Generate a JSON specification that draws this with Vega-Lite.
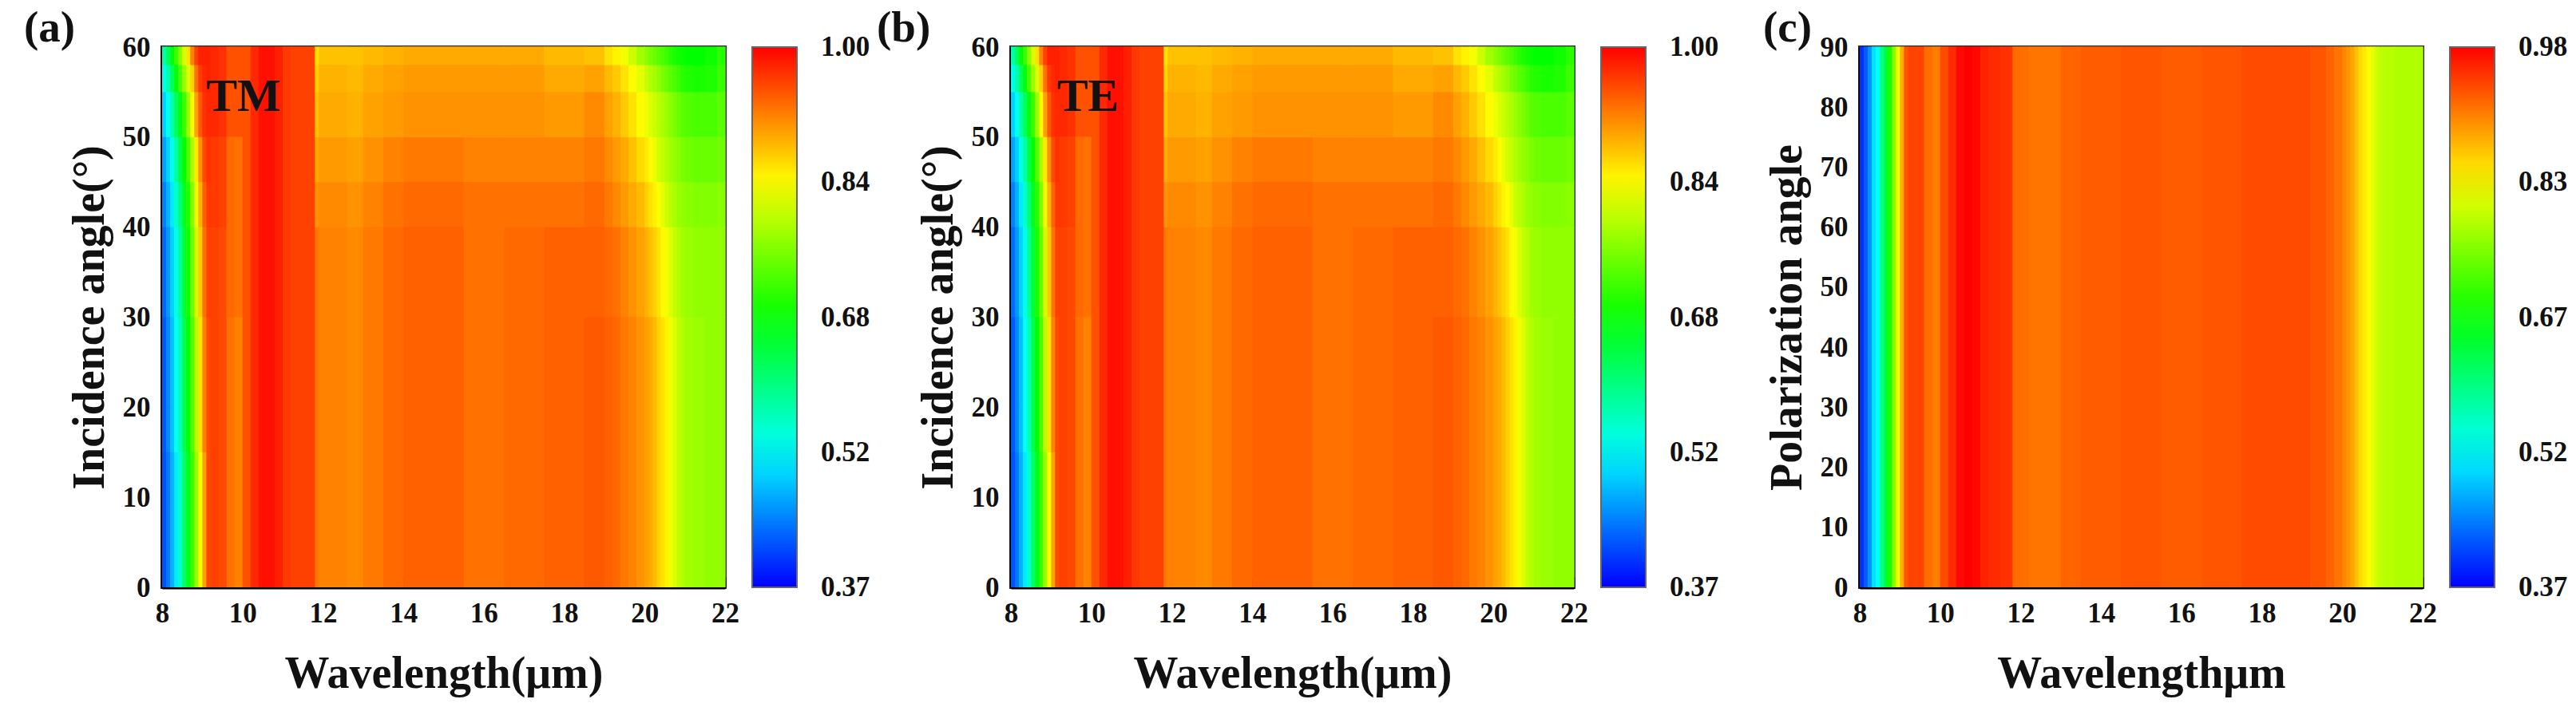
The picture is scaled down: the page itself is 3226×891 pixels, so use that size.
{
  "$schema": "https://vega.github.io/schema/vega-lite/v6.json",
  "autosize": {"type": "pad"},
  "padding": {"left": 28, "top": 6, "right": 5, "bottom": 5},
  "background": "white",
  "config": {
    "view": {"stroke": "#2a2a2a", "strokeWidth": 4},
    "font": "Liberation Serif",
    "axis": {
      "labelFont": "Liberation Serif", "labelFontWeight": "bold", "labelFontSize": 35, "labelColor": "#111",
      "titleFont": "Liberation Serif", "titleFontWeight": "bold", "titleFontSize": 56, "titleColor": "#111",
      "domainColor": "#000", "domainWidth": 4, "tickColor": "#000", "tickWidth": 3,
      "grid": false, "zindex": 1, "labelFlush": false, "labelOverlap": false, "labelPadding": 28
    },
    "axisX": {"titlePadding": 25},
    "axisY": {"titlePadding": 12},
    "legend": {
      "type": "gradient",
      "gradientLength": 677, "gradientThickness": 56, "gradientStrokeColor": "#666", "gradientStrokeWidth": 2,
      "gradientLabelOffset": 30,
      "labelFont": "Liberation Serif", "labelFontWeight": "bold", "labelFontSize": 35, "labelColor": "#111",
      "labelOverlap": false, "offset": 34, "padding": 0,
      "direction": "vertical", "orient": "right"
    },
    "title": {
      "font": "Liberation Serif", "fontSize": 55, "fontWeight": "bold", "color": "#111",
      "anchor": "start", "frame": "group", "baseline": "alphabetic", "offset": -22
    }
  },
  "datasets": {
    "tm": [
      {"w":8,"w2":8.1,"t":0,"t2":15,"v":0.42},
      {"w":8.1,"w2":8.2,"t":0,"t2":15,"v":0.445},
      {"w":8.2,"w2":8.3,"t":0,"t2":15,"v":0.48},
      {"w":8.3,"w2":8.4,"t":0,"t2":15,"v":0.515},
      {"w":8.4,"w2":8.5,"t":0,"t2":15,"v":0.56},
      {"w":8.5,"w2":8.6,"t":0,"t2":15,"v":0.62},
      {"w":8.6,"w2":8.7,"t":0,"t2":15,"v":0.67},
      {"w":8.7,"w2":8.8,"t":0,"t2":15,"v":0.72},
      {"w":8.8,"w2":8.9,"t":0,"t2":15,"v":0.78},
      {"w":8.9,"w2":9,"t":0,"t2":15,"v":0.84},
      {"w":9,"w2":9.1,"t":0,"t2":15,"v":0.9},
      {"w":9.1,"w2":9.2,"t":0,"t2":15,"v":0.955},
      {"w":8,"w2":8.1,"t":15,"t2":30,"v":0.425},
      {"w":8.1,"w2":8.2,"t":15,"t2":30,"v":0.455},
      {"w":8.2,"w2":8.3,"t":15,"t2":30,"v":0.49},
      {"w":8.3,"w2":8.4,"t":15,"t2":30,"v":0.53},
      {"w":8.4,"w2":8.5,"t":15,"t2":30,"v":0.575},
      {"w":8.5,"w2":8.6,"t":15,"t2":30,"v":0.635},
      {"w":8.6,"w2":8.7,"t":15,"t2":30,"v":0.685},
      {"w":8.7,"w2":8.8,"t":15,"t2":30,"v":0.735},
      {"w":8.8,"w2":8.9,"t":15,"t2":30,"v":0.8},
      {"w":8.9,"w2":9,"t":15,"t2":30,"v":0.86},
      {"w":9,"w2":9.1,"t":15,"t2":30,"v":0.92},
      {"w":9.1,"w2":9.2,"t":15,"t2":30,"v":0.955},
      {"w":8,"w2":8.1,"t":30,"t2":40,"v":0.435},
      {"w":8.1,"w2":8.2,"t":30,"t2":40,"v":0.465},
      {"w":8.2,"w2":8.3,"t":30,"t2":40,"v":0.5},
      {"w":8.3,"w2":8.4,"t":30,"t2":40,"v":0.54},
      {"w":8.4,"w2":8.5,"t":30,"t2":40,"v":0.59},
      {"w":8.5,"w2":8.6,"t":30,"t2":40,"v":0.65},
      {"w":8.6,"w2":8.7,"t":30,"t2":40,"v":0.7},
      {"w":8.7,"w2":8.8,"t":30,"t2":40,"v":0.75},
      {"w":8.8,"w2":8.9,"t":30,"t2":40,"v":0.815},
      {"w":8.9,"w2":9,"t":30,"t2":40,"v":0.875},
      {"w":9,"w2":9.1,"t":30,"t2":40,"v":0.93},
      {"w":9.1,"w2":9.2,"t":30,"t2":40,"v":0.96},
      {"w":8,"w2":8.1,"t":40,"t2":45,"v":0.45},
      {"w":8.1,"w2":8.2,"t":40,"t2":45,"v":0.48},
      {"w":8.2,"w2":8.3,"t":40,"t2":45,"v":0.515},
      {"w":8.3,"w2":8.4,"t":40,"t2":45,"v":0.56},
      {"w":8.4,"w2":8.5,"t":40,"t2":45,"v":0.61},
      {"w":8.5,"w2":8.6,"t":40,"t2":45,"v":0.665},
      {"w":8.6,"w2":8.7,"t":40,"t2":45,"v":0.71},
      {"w":8.7,"w2":8.8,"t":40,"t2":45,"v":0.765},
      {"w":8.8,"w2":8.9,"t":40,"t2":45,"v":0.83},
      {"w":8.9,"w2":9,"t":40,"t2":45,"v":0.89},
      {"w":9,"w2":9.1,"t":40,"t2":45,"v":0.94},
      {"w":9.1,"w2":9.2,"t":40,"t2":45,"v":0.965},
      {"w":8,"w2":8.1,"t":45,"t2":50,"v":0.47},
      {"w":8.1,"w2":8.2,"t":45,"t2":50,"v":0.5},
      {"w":8.2,"w2":8.3,"t":45,"t2":50,"v":0.54},
      {"w":8.3,"w2":8.4,"t":45,"t2":50,"v":0.585},
      {"w":8.4,"w2":8.5,"t":45,"t2":50,"v":0.64},
      {"w":8.5,"w2":8.6,"t":45,"t2":50,"v":0.685},
      {"w":8.6,"w2":8.7,"t":45,"t2":50,"v":0.735},
      {"w":8.7,"w2":8.8,"t":45,"t2":50,"v":0.79},
      {"w":8.8,"w2":8.9,"t":45,"t2":50,"v":0.855},
      {"w":8.9,"w2":9,"t":45,"t2":50,"v":0.91},
      {"w":9,"w2":9.1,"t":45,"t2":50,"v":0.955},
      {"w":9.1,"w2":9.2,"t":45,"t2":50,"v":0.97},
      {"w":8,"w2":8.1,"t":50,"t2":55,"v":0.5},
      {"w":8.1,"w2":8.2,"t":50,"t2":55,"v":0.535},
      {"w":8.2,"w2":8.3,"t":50,"t2":55,"v":0.58},
      {"w":8.3,"w2":8.4,"t":50,"t2":55,"v":0.63},
      {"w":8.4,"w2":8.5,"t":50,"t2":55,"v":0.675},
      {"w":8.5,"w2":8.6,"t":50,"t2":55,"v":0.72},
      {"w":8.6,"w2":8.7,"t":50,"t2":55,"v":0.78},
      {"w":8.7,"w2":8.8,"t":50,"t2":55,"v":0.84},
      {"w":8.8,"w2":8.9,"t":50,"t2":55,"v":0.9},
      {"w":8.9,"w2":9,"t":50,"t2":55,"v":0.945},
      {"w":9,"w2":9.1,"t":50,"t2":55,"v":0.97},
      {"w":9.1,"w2":9.2,"t":50,"t2":55,"v":0.975},
      {"w":8,"w2":8.1,"t":55,"t2":58,"v":0.54},
      {"w":8.1,"w2":8.2,"t":55,"t2":58,"v":0.58},
      {"w":8.2,"w2":8.3,"t":55,"t2":58,"v":0.63},
      {"w":8.3,"w2":8.4,"t":55,"t2":58,"v":0.68},
      {"w":8.4,"w2":8.5,"t":55,"t2":58,"v":0.73},
      {"w":8.5,"w2":8.6,"t":55,"t2":58,"v":0.78},
      {"w":8.6,"w2":8.7,"t":55,"t2":58,"v":0.82},
      {"w":8.7,"w2":8.8,"t":55,"t2":58,"v":0.87},
      {"w":8.8,"w2":8.9,"t":55,"t2":58,"v":0.93},
      {"w":8.9,"w2":9,"t":55,"t2":58,"v":0.965},
      {"w":9,"w2":9.1,"t":55,"t2":58,"v":0.975},
      {"w":9.1,"w2":9.2,"t":55,"t2":58,"v":0.98},
      {"w":8,"w2":8.1,"t":58,"t2":60,"v":0.58},
      {"w":8.1,"w2":8.2,"t":58,"t2":60,"v":0.63},
      {"w":8.2,"w2":8.3,"t":58,"t2":60,"v":0.68},
      {"w":8.3,"w2":8.4,"t":58,"t2":60,"v":0.72},
      {"w":8.4,"w2":8.5,"t":58,"t2":60,"v":0.77},
      {"w":8.5,"w2":8.6,"t":58,"t2":60,"v":0.82},
      {"w":8.6,"w2":8.7,"t":58,"t2":60,"v":0.86},
      {"w":8.7,"w2":8.8,"t":58,"t2":60,"v":0.92},
      {"w":8.8,"w2":8.9,"t":58,"t2":60,"v":0.96},
      {"w":8.9,"w2":9,"t":58,"t2":60,"v":0.98},
      {"w":9,"w2":9.1,"t":58,"t2":60,"v":0.98},
      {"w":9.1,"w2":9.2,"t":58,"t2":60,"v":0.98},
      {"w":9.2,"w2":9.4,"t":0,"t2":40,"v":0.96},
      {"w":9.2,"w2":9.4,"t":40,"t2":50,"v":0.965},
      {"w":9.2,"w2":9.4,"t":50,"t2":60,"v":0.975},
      {"w":9.4,"w2":9.6,"t":0,"t2":40,"v":0.955},
      {"w":9.4,"w2":9.6,"t":40,"t2":50,"v":0.96},
      {"w":9.4,"w2":9.6,"t":50,"t2":60,"v":0.97},
      {"w":9.6,"w2":9.8,"t":0,"t2":30,"v":0.93},
      {"w":9.6,"w2":9.8,"t":30,"t2":50,"v":0.935},
      {"w":9.6,"w2":9.8,"t":50,"t2":60,"v":0.95},
      {"w":9.8,"w2":10,"t":0,"t2":30,"v":0.92},
      {"w":9.8,"w2":10,"t":30,"t2":50,"v":0.93},
      {"w":9.8,"w2":10,"t":50,"t2":60,"v":0.95},
      {"w":10,"w2":10.2,"t":0,"t2":60,"v":0.95},
      {"w":10.2,"w2":10.4,"t":0,"t2":60,"v":0.975},
      {"w":10.4,"w2":10.6,"t":0,"t2":60,"v":0.99},
      {"w":10.6,"w2":10.8,"t":0,"t2":60,"v":0.99},
      {"w":10.8,"w2":11,"t":0,"t2":60,"v":0.98},
      {"w":11,"w2":11.2,"t":0,"t2":60,"v":0.965},
      {"w":11.2,"w2":11.5,"t":0,"t2":60,"v":0.96},
      {"w":11.5,"w2":11.8,"t":0,"t2":60,"v":0.96},
      {"w":11.8,"w2":11.9,"t":0,"t2":40,"v":0.925},
      {"w":11.8,"w2":11.9,"t":40,"t2":45,"v":0.91},
      {"w":11.8,"w2":11.9,"t":45,"t2":50,"v":0.895},
      {"w":11.8,"w2":11.9,"t":50,"t2":55,"v":0.88},
      {"w":11.8,"w2":11.9,"t":55,"t2":58,"v":0.87},
      {"w":11.8,"w2":11.9,"t":58,"t2":60,"v":0.86},
      {"w":11.9,"w2":12.6,"t":0,"t2":40,"v":0.92},
      {"w":11.9,"w2":12.6,"t":40,"t2":45,"v":0.915},
      {"w":11.9,"w2":12.6,"t":45,"t2":50,"v":0.905},
      {"w":11.9,"w2":12.6,"t":50,"t2":55,"v":0.895},
      {"w":11.9,"w2":12.6,"t":55,"t2":58,"v":0.89},
      {"w":11.9,"w2":12.6,"t":58,"t2":60,"v":0.88},
      {"w":12.6,"w2":13,"t":0,"t2":40,"v":0.915},
      {"w":12.6,"w2":13,"t":40,"t2":45,"v":0.91},
      {"w":12.6,"w2":13,"t":45,"t2":50,"v":0.9},
      {"w":12.6,"w2":13,"t":50,"t2":55,"v":0.89},
      {"w":12.6,"w2":13,"t":55,"t2":58,"v":0.885},
      {"w":12.6,"w2":13,"t":58,"t2":60,"v":0.88},
      {"w":13,"w2":13.5,"t":0,"t2":40,"v":0.925},
      {"w":13,"w2":13.5,"t":40,"t2":45,"v":0.92},
      {"w":13,"w2":13.5,"t":45,"t2":50,"v":0.91},
      {"w":13,"w2":13.5,"t":50,"t2":55,"v":0.9},
      {"w":13,"w2":13.5,"t":55,"t2":58,"v":0.895},
      {"w":13,"w2":13.5,"t":58,"t2":60,"v":0.885},
      {"w":13.5,"w2":14,"t":0,"t2":40,"v":0.935},
      {"w":13.5,"w2":14,"t":40,"t2":45,"v":0.93},
      {"w":13.5,"w2":14,"t":45,"t2":50,"v":0.92},
      {"w":13.5,"w2":14,"t":50,"t2":55,"v":0.905},
      {"w":13.5,"w2":14,"t":55,"t2":58,"v":0.9},
      {"w":13.5,"w2":14,"t":58,"t2":60,"v":0.89},
      {"w":14,"w2":15.5,"t":0,"t2":40,"v":0.94},
      {"w":14,"w2":15.5,"t":40,"t2":45,"v":0.935},
      {"w":14,"w2":15.5,"t":45,"t2":50,"v":0.925},
      {"w":14,"w2":15.5,"t":50,"t2":55,"v":0.91},
      {"w":14,"w2":15.5,"t":55,"t2":58,"v":0.905},
      {"w":14,"w2":15.5,"t":58,"t2":60,"v":0.895},
      {"w":15.5,"w2":16.5,"t":0,"t2":40,"v":0.93},
      {"w":15.5,"w2":16.5,"t":40,"t2":45,"v":0.93},
      {"w":15.5,"w2":16.5,"t":45,"t2":50,"v":0.92},
      {"w":15.5,"w2":16.5,"t":50,"t2":55,"v":0.91},
      {"w":15.5,"w2":16.5,"t":55,"t2":58,"v":0.905},
      {"w":15.5,"w2":16.5,"t":58,"t2":60,"v":0.895},
      {"w":16.5,"w2":17.5,"t":0,"t2":40,"v":0.935},
      {"w":16.5,"w2":17.5,"t":40,"t2":45,"v":0.93},
      {"w":16.5,"w2":17.5,"t":45,"t2":50,"v":0.92},
      {"w":16.5,"w2":17.5,"t":50,"t2":55,"v":0.91},
      {"w":16.5,"w2":17.5,"t":55,"t2":58,"v":0.905},
      {"w":16.5,"w2":17.5,"t":58,"t2":60,"v":0.895},
      {"w":17.5,"w2":18.5,"t":0,"t2":40,"v":0.94},
      {"w":17.5,"w2":18.5,"t":40,"t2":45,"v":0.93},
      {"w":17.5,"w2":18.5,"t":45,"t2":50,"v":0.92},
      {"w":17.5,"w2":18.5,"t":50,"t2":55,"v":0.905},
      {"w":17.5,"w2":18.5,"t":55,"t2":58,"v":0.895},
      {"w":17.5,"w2":18.5,"t":58,"t2":60,"v":0.885},
      {"w":18.5,"w2":19,"t":0,"t2":30,"v":0.945},
      {"w":19,"w2":19.2,"t":0,"t2":30,"v":0.94},
      {"w":19.2,"w2":19.4,"t":0,"t2":30,"v":0.935},
      {"w":19.4,"w2":19.6,"t":0,"t2":30,"v":0.925},
      {"w":19.6,"w2":19.8,"t":0,"t2":30,"v":0.92},
      {"w":19.8,"w2":20,"t":0,"t2":30,"v":0.91},
      {"w":20,"w2":20.1,"t":0,"t2":30,"v":0.9},
      {"w":20.1,"w2":20.2,"t":0,"t2":30,"v":0.895},
      {"w":20.2,"w2":20.3,"t":0,"t2":30,"v":0.885},
      {"w":20.3,"w2":20.4,"t":0,"t2":30,"v":0.87},
      {"w":20.4,"w2":20.5,"t":0,"t2":30,"v":0.86},
      {"w":20.5,"w2":20.6,"t":0,"t2":30,"v":0.85},
      {"w":20.6,"w2":20.7,"t":0,"t2":30,"v":0.835},
      {"w":20.7,"w2":20.8,"t":0,"t2":30,"v":0.82},
      {"w":20.8,"w2":20.9,"t":0,"t2":30,"v":0.805},
      {"w":20.9,"w2":21,"t":0,"t2":30,"v":0.795},
      {"w":21,"w2":21.2,"t":0,"t2":30,"v":0.785},
      {"w":21.2,"w2":21.5,"t":0,"t2":30,"v":0.78},
      {"w":21.5,"w2":21.8,"t":0,"t2":30,"v":0.775},
      {"w":21.8,"w2":22,"t":0,"t2":30,"v":0.775},
      {"w":18.5,"w2":19,"t":30,"t2":40,"v":0.94},
      {"w":19,"w2":19.2,"t":30,"t2":40,"v":0.935},
      {"w":19.2,"w2":19.4,"t":30,"t2":40,"v":0.93},
      {"w":19.4,"w2":19.6,"t":30,"t2":40,"v":0.92},
      {"w":19.6,"w2":19.8,"t":30,"t2":40,"v":0.91},
      {"w":19.8,"w2":20,"t":30,"t2":40,"v":0.9},
      {"w":20,"w2":20.1,"t":30,"t2":40,"v":0.89},
      {"w":20.1,"w2":20.2,"t":30,"t2":40,"v":0.88},
      {"w":20.2,"w2":20.3,"t":30,"t2":40,"v":0.87},
      {"w":20.3,"w2":20.4,"t":30,"t2":40,"v":0.86},
      {"w":20.4,"w2":20.5,"t":30,"t2":40,"v":0.845},
      {"w":20.5,"w2":20.6,"t":30,"t2":40,"v":0.835},
      {"w":20.6,"w2":20.7,"t":30,"t2":40,"v":0.82},
      {"w":20.7,"w2":20.8,"t":30,"t2":40,"v":0.805},
      {"w":20.8,"w2":20.9,"t":30,"t2":40,"v":0.795},
      {"w":20.9,"w2":21,"t":30,"t2":40,"v":0.785},
      {"w":21,"w2":21.2,"t":30,"t2":40,"v":0.78},
      {"w":21.2,"w2":21.5,"t":30,"t2":40,"v":0.775},
      {"w":21.5,"w2":21.8,"t":30,"t2":40,"v":0.775},
      {"w":21.8,"w2":22,"t":30,"t2":40,"v":0.775},
      {"w":18.5,"w2":19,"t":40,"t2":45,"v":0.935},
      {"w":19,"w2":19.2,"t":40,"t2":45,"v":0.925},
      {"w":19.2,"w2":19.4,"t":40,"t2":45,"v":0.915},
      {"w":19.4,"w2":19.6,"t":40,"t2":45,"v":0.905},
      {"w":19.6,"w2":19.8,"t":40,"t2":45,"v":0.895},
      {"w":19.8,"w2":20,"t":40,"t2":45,"v":0.885},
      {"w":20,"w2":20.1,"t":40,"t2":45,"v":0.87},
      {"w":20.1,"w2":20.2,"t":40,"t2":45,"v":0.86},
      {"w":20.2,"w2":20.3,"t":40,"t2":45,"v":0.85},
      {"w":20.3,"w2":20.4,"t":40,"t2":45,"v":0.84},
      {"w":20.4,"w2":20.5,"t":40,"t2":45,"v":0.825},
      {"w":20.5,"w2":20.6,"t":40,"t2":45,"v":0.81},
      {"w":20.6,"w2":20.7,"t":40,"t2":45,"v":0.8},
      {"w":20.7,"w2":20.8,"t":40,"t2":45,"v":0.79},
      {"w":20.8,"w2":20.9,"t":40,"t2":45,"v":0.78},
      {"w":20.9,"w2":21,"t":40,"t2":45,"v":0.775},
      {"w":21,"w2":21.2,"t":40,"t2":45,"v":0.77},
      {"w":21.2,"w2":21.5,"t":40,"t2":45,"v":0.765},
      {"w":21.5,"w2":21.8,"t":40,"t2":45,"v":0.765},
      {"w":21.8,"w2":22,"t":40,"t2":45,"v":0.77},
      {"w":18.5,"w2":19,"t":45,"t2":50,"v":0.925},
      {"w":19,"w2":19.2,"t":45,"t2":50,"v":0.915},
      {"w":19.2,"w2":19.4,"t":45,"t2":50,"v":0.905},
      {"w":19.4,"w2":19.6,"t":45,"t2":50,"v":0.895},
      {"w":19.6,"w2":19.8,"t":45,"t2":50,"v":0.88},
      {"w":19.8,"w2":20,"t":45,"t2":50,"v":0.865},
      {"w":20,"w2":20.1,"t":45,"t2":50,"v":0.855},
      {"w":20.1,"w2":20.2,"t":45,"t2":50,"v":0.845},
      {"w":20.2,"w2":20.3,"t":45,"t2":50,"v":0.83},
      {"w":20.3,"w2":20.4,"t":45,"t2":50,"v":0.815},
      {"w":20.4,"w2":20.5,"t":45,"t2":50,"v":0.805},
      {"w":20.5,"w2":20.6,"t":45,"t2":50,"v":0.795},
      {"w":20.6,"w2":20.7,"t":45,"t2":50,"v":0.785},
      {"w":20.7,"w2":20.8,"t":45,"t2":50,"v":0.775},
      {"w":20.8,"w2":20.9,"t":45,"t2":50,"v":0.77},
      {"w":20.9,"w2":21,"t":45,"t2":50,"v":0.76},
      {"w":21,"w2":21.2,"t":45,"t2":50,"v":0.755},
      {"w":21.2,"w2":21.5,"t":45,"t2":50,"v":0.75},
      {"w":21.5,"w2":21.8,"t":45,"t2":50,"v":0.75},
      {"w":21.8,"w2":22,"t":45,"t2":50,"v":0.755},
      {"w":18.5,"w2":19,"t":50,"t2":55,"v":0.915},
      {"w":19,"w2":19.2,"t":50,"t2":55,"v":0.9},
      {"w":19.2,"w2":19.4,"t":50,"t2":55,"v":0.89},
      {"w":19.4,"w2":19.6,"t":50,"t2":55,"v":0.875},
      {"w":19.6,"w2":19.8,"t":50,"t2":55,"v":0.86},
      {"w":19.8,"w2":20,"t":50,"t2":55,"v":0.845},
      {"w":20,"w2":20.1,"t":50,"t2":55,"v":0.83},
      {"w":20.1,"w2":20.2,"t":50,"t2":55,"v":0.82},
      {"w":20.2,"w2":20.3,"t":50,"t2":55,"v":0.81},
      {"w":20.3,"w2":20.4,"t":50,"t2":55,"v":0.8},
      {"w":20.4,"w2":20.5,"t":50,"t2":55,"v":0.79},
      {"w":20.5,"w2":20.6,"t":50,"t2":55,"v":0.78},
      {"w":20.6,"w2":20.7,"t":50,"t2":55,"v":0.77},
      {"w":20.7,"w2":20.8,"t":50,"t2":55,"v":0.76},
      {"w":20.8,"w2":20.9,"t":50,"t2":55,"v":0.75},
      {"w":20.9,"w2":21,"t":50,"t2":55,"v":0.74},
      {"w":21,"w2":21.2,"t":50,"t2":55,"v":0.735},
      {"w":21.2,"w2":21.5,"t":50,"t2":55,"v":0.73},
      {"w":21.5,"w2":21.8,"t":50,"t2":55,"v":0.73},
      {"w":21.8,"w2":22,"t":50,"t2":55,"v":0.74},
      {"w":18.5,"w2":19,"t":55,"t2":58,"v":0.9},
      {"w":19,"w2":19.2,"t":55,"t2":58,"v":0.885},
      {"w":19.2,"w2":19.4,"t":55,"t2":58,"v":0.875},
      {"w":19.4,"w2":19.6,"t":55,"t2":58,"v":0.86},
      {"w":19.6,"w2":19.8,"t":55,"t2":58,"v":0.845},
      {"w":19.8,"w2":20,"t":55,"t2":58,"v":0.825},
      {"w":20,"w2":20.1,"t":55,"t2":58,"v":0.805},
      {"w":20.1,"w2":20.2,"t":55,"t2":58,"v":0.795},
      {"w":20.2,"w2":20.3,"t":55,"t2":58,"v":0.785},
      {"w":20.3,"w2":20.4,"t":55,"t2":58,"v":0.775},
      {"w":20.4,"w2":20.5,"t":55,"t2":58,"v":0.76},
      {"w":20.5,"w2":20.6,"t":55,"t2":58,"v":0.75},
      {"w":20.6,"w2":20.7,"t":55,"t2":58,"v":0.74},
      {"w":20.7,"w2":20.8,"t":55,"t2":58,"v":0.73},
      {"w":20.8,"w2":20.9,"t":55,"t2":58,"v":0.72},
      {"w":20.9,"w2":21,"t":55,"t2":58,"v":0.71},
      {"w":21,"w2":21.2,"t":55,"t2":58,"v":0.705},
      {"w":21.2,"w2":21.5,"t":55,"t2":58,"v":0.7},
      {"w":21.5,"w2":21.8,"t":55,"t2":58,"v":0.705},
      {"w":21.8,"w2":22,"t":55,"t2":58,"v":0.72},
      {"w":18.5,"w2":19,"t":58,"t2":60,"v":0.88},
      {"w":19,"w2":19.2,"t":58,"t2":60,"v":0.86},
      {"w":19.2,"w2":19.4,"t":58,"t2":60,"v":0.85},
      {"w":19.4,"w2":19.6,"t":58,"t2":60,"v":0.835},
      {"w":19.6,"w2":19.8,"t":58,"t2":60,"v":0.81},
      {"w":19.8,"w2":20,"t":58,"t2":60,"v":0.785},
      {"w":20,"w2":20.1,"t":58,"t2":60,"v":0.77},
      {"w":20.1,"w2":20.2,"t":58,"t2":60,"v":0.76},
      {"w":20.2,"w2":20.3,"t":58,"t2":60,"v":0.75},
      {"w":20.3,"w2":20.4,"t":58,"t2":60,"v":0.74},
      {"w":20.4,"w2":20.5,"t":58,"t2":60,"v":0.73},
      {"w":20.5,"w2":20.6,"t":58,"t2":60,"v":0.72},
      {"w":20.6,"w2":20.7,"t":58,"t2":60,"v":0.71},
      {"w":20.7,"w2":20.8,"t":58,"t2":60,"v":0.7},
      {"w":20.8,"w2":20.9,"t":58,"t2":60,"v":0.695},
      {"w":20.9,"w2":21,"t":58,"t2":60,"v":0.69},
      {"w":21,"w2":21.2,"t":58,"t2":60,"v":0.685},
      {"w":21.2,"w2":21.5,"t":58,"t2":60,"v":0.685},
      {"w":21.5,"w2":21.8,"t":58,"t2":60,"v":0.695},
      {"w":21.8,"w2":22,"t":58,"t2":60,"v":0.71}
    ],
    "pol": [
      {"w":8,"w2":8.1,"t":0,"t2":90,"v":0.4},
      {"w":8.1,"w2":8.2,"t":0,"t2":90,"v":0.425},
      {"w":8.2,"w2":8.3,"t":0,"t2":90,"v":0.46},
      {"w":8.3,"w2":8.4,"t":0,"t2":90,"v":0.505},
      {"w":8.4,"w2":8.5,"t":0,"t2":90,"v":0.53},
      {"w":8.5,"w2":8.6,"t":0,"t2":90,"v":0.59},
      {"w":8.6,"w2":8.7,"t":0,"t2":90,"v":0.645},
      {"w":8.7,"w2":8.8,"t":0,"t2":90,"v":0.69},
      {"w":8.8,"w2":8.9,"t":0,"t2":90,"v":0.76},
      {"w":8.9,"w2":9,"t":0,"t2":90,"v":0.82},
      {"w":9,"w2":9.1,"t":0,"t2":90,"v":0.875},
      {"w":9.1,"w2":9.2,"t":0,"t2":90,"v":0.93},
      {"w":9.2,"w2":9.4,"t":0,"t2":90,"v":0.94},
      {"w":9.4,"w2":9.6,"t":0,"t2":90,"v":0.94},
      {"w":9.6,"w2":9.8,"t":0,"t2":90,"v":0.915},
      {"w":9.8,"w2":10,"t":0,"t2":90,"v":0.905},
      {"w":10,"w2":10.2,"t":0,"t2":90,"v":0.935},
      {"w":10.2,"w2":10.4,"t":0,"t2":90,"v":0.955},
      {"w":10.4,"w2":10.6,"t":0,"t2":90,"v":0.975},
      {"w":10.6,"w2":10.8,"t":0,"t2":90,"v":0.98},
      {"w":10.8,"w2":11,"t":0,"t2":90,"v":0.975},
      {"w":11,"w2":11.2,"t":0,"t2":90,"v":0.96},
      {"w":11.2,"w2":11.5,"t":0,"t2":90,"v":0.955},
      {"w":11.5,"w2":11.8,"t":0,"t2":90,"v":0.95},
      {"w":11.8,"w2":12.2,"t":0,"t2":90,"v":0.915},
      {"w":12.2,"w2":12.6,"t":0,"t2":90,"v":0.91},
      {"w":12.6,"w2":13,"t":0,"t2":90,"v":0.91},
      {"w":13,"w2":13.5,"t":0,"t2":90,"v":0.92},
      {"w":13.5,"w2":14.5,"t":0,"t2":90,"v":0.925},
      {"w":14.5,"w2":15.5,"t":0,"t2":90,"v":0.93},
      {"w":15.5,"w2":16.5,"t":0,"t2":90,"v":0.925},
      {"w":16.5,"w2":17.5,"t":0,"t2":90,"v":0.93},
      {"w":17.5,"w2":18.5,"t":0,"t2":90,"v":0.935},
      {"w":18.5,"w2":19.2,"t":0,"t2":90,"v":0.935},
      {"w":19.2,"w2":19.6,"t":0,"t2":90,"v":0.93},
      {"w":19.6,"w2":19.8,"t":0,"t2":90,"v":0.92},
      {"w":19.8,"w2":20,"t":0,"t2":90,"v":0.91},
      {"w":20,"w2":20.1,"t":0,"t2":90,"v":0.9},
      {"w":20.1,"w2":20.2,"t":0,"t2":90,"v":0.89},
      {"w":20.2,"w2":20.3,"t":0,"t2":90,"v":0.88},
      {"w":20.3,"w2":20.4,"t":0,"t2":90,"v":0.865},
      {"w":20.4,"w2":20.5,"t":0,"t2":90,"v":0.85},
      {"w":20.5,"w2":20.6,"t":0,"t2":90,"v":0.84},
      {"w":20.6,"w2":20.7,"t":0,"t2":90,"v":0.83},
      {"w":20.7,"w2":20.8,"t":0,"t2":90,"v":0.815},
      {"w":20.8,"w2":20.9,"t":0,"t2":90,"v":0.8},
      {"w":20.9,"w2":21,"t":0,"t2":90,"v":0.79},
      {"w":21,"w2":21.3,"t":0,"t2":90,"v":0.785},
      {"w":21.3,"w2":22,"t":0,"t2":90,"v":0.78}
    ]
  },
  "spacing": 358,
  "bounds": "flush",
  "resolve": {"scale": {"color": "independent", "x": "independent", "y": "independent"}},
  "hconcat": [
    {
      "width": 705, "height": 677,
      "title": {"text": "(a)", "dx": -173},
      "layer": [
        {
          "data": {"name": "tm"},
          "mark": {"type": "rect", "x2Offset": 0.7, "y2Offset": -0.7},
          "encoding": {
            "x": {"field": "w", "type": "quantitative", "title": "Wavelength(μm)",
                  "scale": {"domain": [8, 22], "nice": false, "zero": false},
                  "axis": {"values": [8,9,10,11,12,13,14,15,16,17,18,19,20,21,22],
                           "labelExpr": "datum.value % 2 == 0 ? datum.label : ''",
                           "tickSize": {"condition": {"test": "datum.value % 2 == 0", "value": -13}, "value": -7}}},
            "x2": {"field": "w2"},
            "y": {"field": "t", "type": "quantitative", "title": "Incidence angle(°)",
                  "scale": {"domain": [0, 60], "nice": false, "zero": false},
                  "axis": {"values": [0,5,10,15,20,25,30,35,40,45,50,55,60],
                           "labelExpr": "datum.value % 10 == 0 ? datum.label : ''",
                           "tickSize": {"condition": {"test": "datum.value % 10 == 0", "value": -13}, "value": -7}}},
            "y2": {"field": "t2"},
            "color": {"field": "v", "type": "quantitative",
                      "scale": {"type": "linear", "domain": [0.37, 0.5275, 0.685, 0.8425, 1], "range": ["#0000ff", "#00ffff", "#00ff00", "#ffff00", "#ff0000"], "interpolate": "rgb", "clamp": true, "nice": false, "zero": false},
                      "legend": {"title": null, "labelOffset": 30, "values": [0.37, 0.5275, 0.685, 0.8425, 1],
                                 "encode": {"labels": {"update": {"baseline": {"value": "middle"}}}},
                                 "labelExpr": "datum.value < 0.4 ? '0.37' : datum.value < 0.6 ? '0.52' : datum.value < 0.75 ? '0.68' : datum.value < 0.9 ? '0.84' : '1.00'"}}
          }
        },
        {
          "data": {"values": [{"w": 9.1, "t": 52.9, "s": "TM"}]},
          "mark": {"type": "text", "align": "left", "baseline": "alphabetic", "font": "Liberation Serif", "fontSize": 58, "fontWeight": "bold", "color": "#111"},
          "encoding": {
            "x": {"field": "w", "type": "quantitative"},
            "y": {"field": "t", "type": "quantitative"},
            "text": {"field": "s"}
          }
        }
      ]
    },
    {
      "width": 705, "height": 677,
      "title": {"text": "(b)", "dx": -168},
      "layer": [
        {
          "data": {"name": "tm"},
          "mark": {"type": "rect", "x2Offset": 0.7, "y2Offset": -0.7},
          "encoding": {
            "x": {"field": "w", "type": "quantitative", "title": "Wavelength(μm)",
                  "scale": {"domain": [8, 22], "nice": false, "zero": false},
                  "axis": {"values": [8,9,10,11,12,13,14,15,16,17,18,19,20,21,22],
                           "labelExpr": "datum.value % 2 == 0 ? datum.label : ''",
                           "tickSize": {"condition": {"test": "datum.value % 2 == 0", "value": -13}, "value": -7}}},
            "x2": {"field": "w2"},
            "y": {"field": "t", "type": "quantitative", "title": "Incidence angle(°)",
                  "scale": {"domain": [0, 60], "nice": false, "zero": false},
                  "axis": {"values": [0,5,10,15,20,25,30,35,40,45,50,55,60],
                           "labelExpr": "datum.value % 10 == 0 ? datum.label : ''",
                           "tickSize": {"condition": {"test": "datum.value % 10 == 0", "value": -13}, "value": -7}}},
            "y2": {"field": "t2"},
            "color": {"field": "v", "type": "quantitative",
                      "scale": {"type": "linear", "domain": [0.37, 0.5275, 0.685, 0.8425, 1], "range": ["#0000ff", "#00ffff", "#00ff00", "#ffff00", "#ff0000"], "interpolate": "rgb", "clamp": true, "nice": false, "zero": false},
                      "legend": {"title": null, "labelOffset": 30, "values": [0.37, 0.5275, 0.685, 0.8425, 1],
                                 "encode": {"labels": {"update": {"baseline": {"value": "middle"}}}},
                                 "labelExpr": "datum.value < 0.4 ? '0.37' : datum.value < 0.6 ? '0.52' : datum.value < 0.75 ? '0.68' : datum.value < 0.9 ? '0.84' : '1.00'"}}
          }
        },
        {
          "data": {"values": [{"w": 9.15, "t": 52.9, "s": "TE"}]},
          "mark": {"type": "text", "align": "left", "baseline": "alphabetic", "font": "Liberation Serif", "fontSize": 58, "fontWeight": "bold", "color": "#111"},
          "encoding": {
            "x": {"field": "w", "type": "quantitative"},
            "y": {"field": "t", "type": "quantitative"},
            "text": {"field": "s"}
          }
        }
      ]
    },
    {
      "width": 705, "height": 677,
      "title": {"text": "(c)", "dx": -121},
      "data": {"name": "pol"},
      "mark": {"type": "rect", "x2Offset": 0.7, "y2Offset": -0.7},
      "encoding": {
        "x": {"field": "w", "type": "quantitative", "title": "Wavelengthμm",
              "scale": {"domain": [8, 22], "nice": false, "zero": false},
              "axis": {"values": [8,9,10,11,12,13,14,15,16,17,18,19,20,21,22],
                       "labelExpr": "datum.value % 2 == 0 ? datum.label : ''",
                       "tickSize": {"condition": {"test": "datum.value % 2 == 0", "value": -13}, "value": -7}}},
        "x2": {"field": "w2"},
        "y": {"field": "t", "type": "quantitative", "title": "Polarization angle",
              "scale": {"domain": [0, 90], "nice": false, "zero": false},
              "axis": {"values": [0,5,10,15,20,25,30,35,40,45,50,55,60,65,70,75,80,85,90],
                       "labelExpr": "datum.value % 10 == 0 ? datum.label : ''",
                       "tickSize": {"condition": {"test": "datum.value % 10 == 0", "value": -13}, "value": -7}}},
        "y2": {"field": "t2"},
        "color": {"field": "v", "type": "quantitative",
                  "scale": {"type": "linear", "domain": [0.37, 0.5225, 0.675, 0.8275, 0.98], "range": ["#0000ff", "#00ffff", "#00ff00", "#ffff00", "#ff0000"], "interpolate": "rgb", "clamp": true, "nice": false, "zero": false},
                  "legend": {"title": null, "labelOffset": 30, "values": [0.37, 0.5225, 0.675, 0.8275, 0.98],
                             "encode": {"labels": {"update": {"baseline": {"value": "middle"}}}},
                             "labelExpr": "datum.value < 0.4 ? '0.37' : datum.value < 0.6 ? '0.52' : datum.value < 0.75 ? '0.67' : datum.value < 0.9 ? '0.83' : '0.98'"}}
      }
    }
  ]
}
